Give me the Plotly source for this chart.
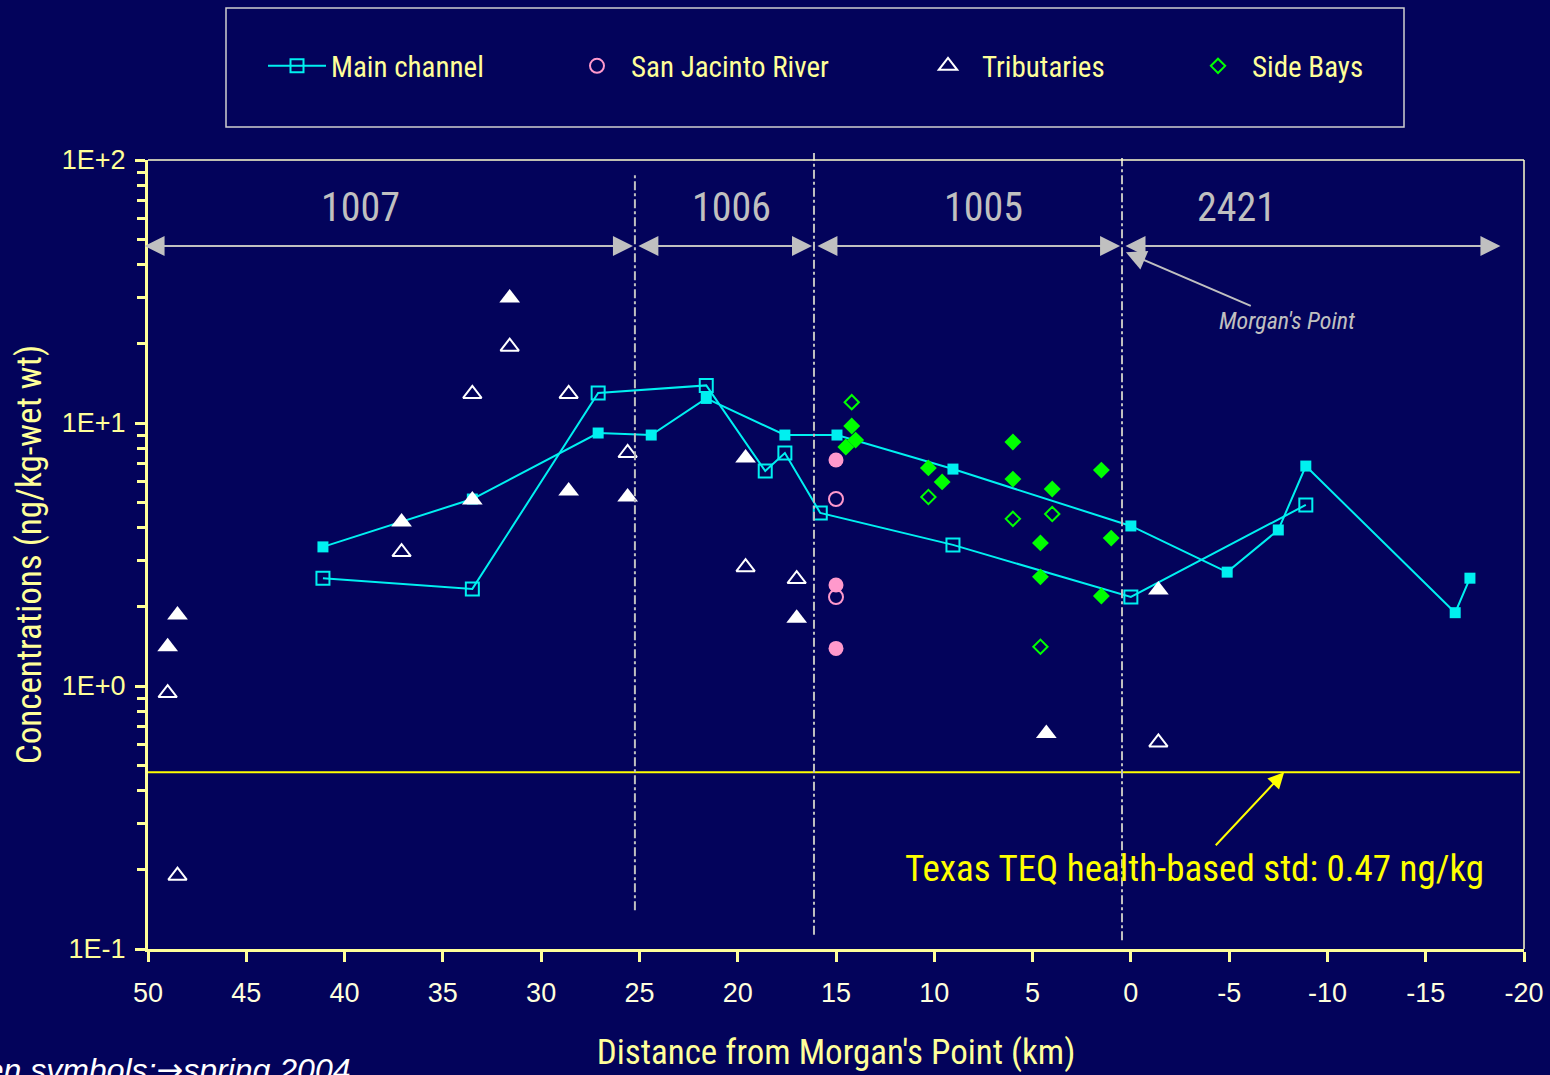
import numpy as np
import plotly.graph_objects as go

# ---- data: distance from Morgan's Point (km) and TEQ concentration (ng/kg wet wt) ----
# Main channel, spring 2004 (open squares)
main_spring_km = [41.1, 33.5, 27.1, 21.6, 18.6, 17.6, 15.8, 9.05, 0.0, -8.9]
main_spring = [2.57, 2.34, 13.0, 13.9, 6.57, 7.69, 4.55, 3.44, 2.18, 4.88]
# Main channel, other survey (filled squares)
main_km = [41.1, 33.5, 27.1, 24.4, 21.6, 17.6, 14.95, 9.05, 0.0, -4.9, -7.5, -8.9, -16.5, -17.25]
main_conc = [3.38, 5.14, 9.16, 9.0, 12.4, 9.0, 9.0, 6.68, 4.06, 2.71, 3.92, 6.86, 1.90, 2.57]

# San Jacinto River
sjr_spring_km = [15.0, 15.0]
sjr_spring = [5.14, 2.18]
sjr_km = [15.0, 15.0, 15.0]
sjr_conc = [7.23, 2.42, 1.39]

# Tributaries
trib_spring_km = [49.0, 48.5, 37.1, 33.5, 31.6, 28.6, 25.6, 19.6, 17.0, -1.4]
trib_spring = [0.94, 0.19, 3.23, 12.9, 19.5, 12.9, 7.69, 2.83, 2.55, 0.61]
trib_km = [48.5, 49.0, 37.1, 33.5, 31.6, 28.6, 25.6, 19.6, 17.0, 4.3, -1.4]
trib_conc = [1.86, 1.41, 4.20, 5.1, 29.9, 5.51, 5.23, 7.36, 1.81, 0.66, 2.32]

# Side bays
bays_spring_km = [14.2, 10.3, 6.0, 4.0, 4.6]
bays_spring = [12.0, 5.23, 4.32, 4.51, 1.41]
bays_km = [14.2, 14.5, 14.0, 10.3, 9.6, 6.0, 6.0, 4.0, 4.6, 4.6, 1.5, 1.0, 1.5]
bays_conc = [9.74, 8.1, 8.61, 6.75, 5.97, 8.47, 6.12, 5.61, 3.50, 2.60, 6.62, 3.65, 2.20]

# Texas TEQ health-based standard (ng/kg)
teq_std = 0.47

# River segments and their boundaries (km)
segment_names = ["1007", "1006", "1005", "2421"]
segment_label_km = [39.2, 20.3, 7.5, -5.35]
segment_bounds = [50.25, 25.23, 16.12, 0.45, -18.8]

x_ticks = list(range(50, -25, -5))
x_ticktext = [str(v) for v in x_ticks]
y_tickvals = [0.1, 1, 10, 100]
y_ticktext = ["1E-1", "1E+0", "1E+1", "1E+2"]

# ---- styling ----
BG = "#03035b"
AXIS = "#ffff99"
CYAN = "#00f0f0"
PINK = "#ff99cc"
GREEN = "#00ff00"
GREY = "#c0c0c0"
NARROW = "Liberation Sans Narrow, Arial Narrow, Roboto Condensed, sans-serif"
REGULAR = "Liberation Sans, Arial, sans-serif"

fig = go.Figure()

# standard line
fig.add_trace(go.Scatter(
    x=[50, -19.8], y=[teq_std, teq_std], mode="lines",
    line=dict(color="#ffff00", width=2), showlegend=False, hoverinfo="skip"))

# main channel
fig.add_trace(go.Scatter(
    x=main_spring_km, y=main_spring, mode="lines+markers", name="Main channel",
    line=dict(color=CYAN, width=2),
    marker=dict(symbol="square-open", size=13, color=CYAN, line=dict(width=2)),
    legendwidth=227))
fig.add_trace(go.Scatter(
    x=main_km, y=main_conc, mode="lines+markers", showlegend=False,
    line=dict(color=CYAN, width=2),
    marker=dict(symbol="square", size=11, color=CYAN)))

# San Jacinto River
fig.add_trace(go.Scatter(
    x=sjr_spring_km, y=sjr_spring, mode="markers", name="San Jacinto River",
    marker=dict(symbol="circle-open", size=14, color=PINK, line=dict(width=2)),
    legendwidth=278))
fig.add_trace(go.Scatter(
    x=sjr_km, y=sjr_conc, mode="markers", showlegend=False,
    marker=dict(symbol="circle", size=15, color=PINK)))

# tributaries
fig.add_trace(go.Scatter(
    x=trib_spring_km, y=trib_spring, mode="markers", name="Tributaries",
    marker=dict(symbol="triangle-up-open", size=16, color="white", line=dict(width=2)),
    legendwidth=197))
fig.add_trace(go.Scatter(
    x=trib_km, y=trib_conc, mode="markers", showlegend=False,
    marker=dict(symbol="triangle-up", size=18, color="white")))

# side bays
fig.add_trace(go.Scatter(
    x=bays_spring_km, y=bays_spring, mode="markers", name="Side Bays",
    marker=dict(symbol="diamond-open", size=11, color=GREEN, line=dict(width=2)),
    legendwidth=130))
fig.add_trace(go.Scatter(
    x=bays_km, y=bays_conc, mode="markers", showlegend=False,
    marker=dict(symbol="diamond", size=13, color=GREEN)))

shapes = []
# segment boundaries (dash-dot)
for xb, y0, y1 in zip(segment_bounds[1:4], [0.049, 0.018, 0.011], [0.981, 1.009, 1.0025]):
    shapes.append(dict(type="line", xref="x", yref="paper", x0=xb, x1=xb, y0=y0, y1=y1,
                       line=dict(color=GREY, width=2, dash="dashdot")))
# thin frame on top and right of the plotting area
shapes.append(dict(type="line", xref="paper", yref="paper", x0=0, x1=1, y0=1, y1=1,
                   line=dict(color="#ffffcc", width=1.5)))
shapes.append(dict(type="line", xref="paper", yref="paper", x0=1, x1=1, y0=0, y1=1,
                   line=dict(color="#ffffcc", width=1.5)))
# legend frame
shapes.append(dict(type="rect", xref="paper", yref="paper",
                   x0=(226 - 148) / 1376, x1=(1404 - 148) / 1376,
                   y0=(949 - 127) / 789, y1=(949 - 8) / 789,
                   line=dict(color="#d0d0d0", width=1.5)))

annotations = []
# segment names
for name, xk in zip(segment_names, segment_label_km):
    annotations.append(dict(x=xk, y=0.940, xref="x", yref="paper", yanchor="middle",
                            text=name, showarrow=False,
                            font=dict(family=NARROW, size=40, color=GREY)))
# double-headed extent arrows for each segment
gap = 0.1
for i in range(4):
    left, right = segment_bounds[i], segment_bounds[i + 1]
    lx = left - (gap if i > 0 else 0)
    rx = right + (gap if i < 3 else 0)
    annotations.append(dict(x=rx, y=0.891, xref="x", yref="paper",
                            ax=lx, ay=0, axref="x", ayref="pixel",
                            text="", showarrow=True, arrowside="end+start",
                            arrowhead=2, startarrowhead=2, arrowsize=2, startarrowsize=2,
                            arrowwidth=2, arrowcolor=GREY))
# Morgan's Point callout
annotations.append(dict(x=0.25, y=0.883, xref="x", yref="paper", text="<i>Morgan's Point</i>",
                        showarrow=True, ax=161, ay=69, arrowhead=2, arrowsize=2, arrowwidth=2,
                        arrowcolor=GREY, font=dict(family=NARROW, size=24, color=GREY)))
# standard callout
annotations.append(dict(x=-7.8, y=np.log10(teq_std), xref="x", yref="y",
                        text="Texas TEQ health-based std: 0.47 ng/kg",
                        showarrow=True, ax=-90, ay=96, arrowhead=2, arrowsize=1.6, arrowwidth=2,
                        arrowcolor="#ffff00", font=dict(family=NARROW, size=37, color="#ffff00")))
# symbol note
annotations.append(dict(x=(352 - 148) / 1376, y=-0.153, xref="paper", yref="paper",
                        xanchor="right", yanchor="middle", showarrow=False,
                        text=("<i>Open symbols:<span style=\"font-family:DejaVu Sans\">\u2192</span>"
                              "spring 2004</i>"),
                        font=dict(family=REGULAR, size=32, color="white")))

fig.update_layout(
    width=1550, height=1075,
    margin=dict(l=148, r=26, t=160, b=126),
    paper_bgcolor=BG, plot_bgcolor=BG,
    shapes=shapes, annotations=annotations,
    legend=dict(orientation="h", x=(263 - 148) / 1376, xanchor="left",
                y=(949 - 66) / 789, yanchor="middle",
                bgcolor="rgba(0,0,0,0)", borderwidth=0, itemwidth=58,
                font=dict(family=NARROW, size=29, color=AXIS)),
    xaxis=dict(range=[50, -20], autorange=False, automargin=False,
               tickmode="array", tickvals=x_ticks, ticktext=x_ticktext,
               showgrid=False, zeroline=False, showline=True, linecolor=AXIS, linewidth=3,
               ticks="outside", ticklen=10, tickwidth=3, tickcolor=AXIS,
               ticklabelstandoff=8,
               tickfont=dict(family=REGULAR, size=27, color="#ffffdd"),
               title=dict(text="Distance from Morgan's Point (km)", standoff=33,
                          font=dict(family=NARROW, size=35, color=AXIS))),
    yaxis=dict(type="log", range=[-1, 2], autorange=False, automargin=False,
               tickmode="array", tickvals=y_tickvals, ticktext=y_ticktext,
               showgrid=False, zeroline=False, showline=True, linecolor=AXIS, linewidth=3,
               ticks="outside", ticklen=10, tickwidth=3, tickcolor=AXIS,
               ticklabelstandoff=4,
               minor=dict(tickmode="array",
                          tickvals=[m * 10.0 ** e for e in (-1, 0, 1) for m in range(2, 10)],
                          ticks="outside", ticklen=8, tickwidth=3, tickcolor=AXIS,
                          showgrid=False),
               tickfont=dict(family=REGULAR, size=27, color=AXIS),
               title=dict(text="Concentrations (ng/kg-wet wt)", standoff=10,
                          font=dict(family=NARROW, size=35, color=AXIS))),
)

fig.write_html("out.html")
